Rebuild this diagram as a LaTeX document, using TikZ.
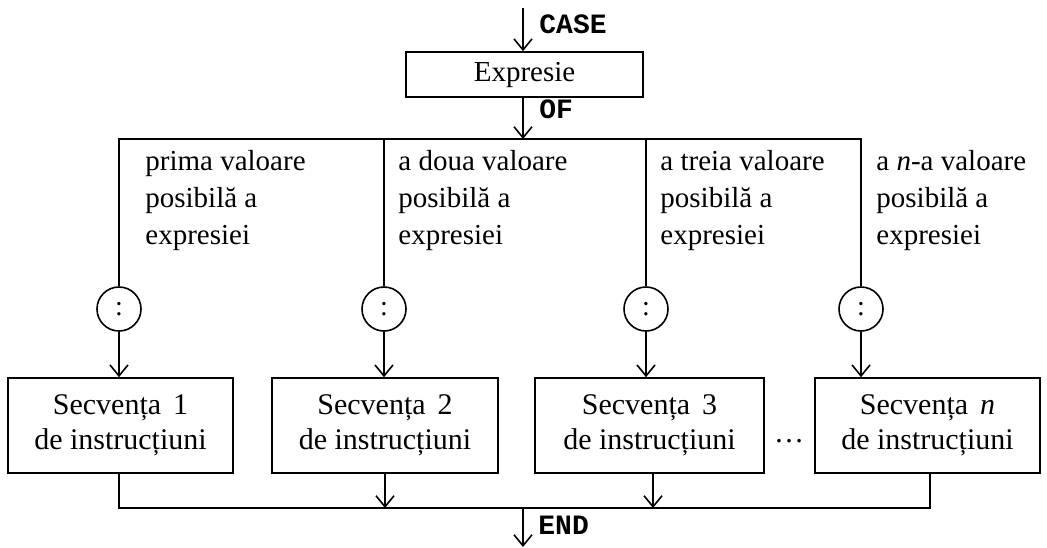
\documentclass[tikz,border=0pt]{standalone}
\usepackage{fontspec}
\setmainfont{Liberation Serif}
\newfontfamily\kwfont{Liberation Mono}
\usetikzlibrary{arrows.meta}
\begin{document}
\begin{tikzpicture}[x=0.5pt,y=-0.5pt,
  every node/.style={inner sep=0pt},
  flow/.style={line width=0.8pt},
  arr/.style={flow,-{Straight Barb[length=5.5pt,width=9pt,line width=0.8pt]}},
  block/.style={draw,line width=0.8pt,minimum height=47.5pt,align=center,
    font=\fontsize{15}{17.5}\selectfont},
  cond/.style={draw,circle,line width=0.8pt,minimum size=22pt,
    font=\fontsize{14}{18}\selectfont},
  value/.style={anchor=north west,align=left,font=\fontsize{14.5}{18.5}\selectfont},
  kw/.style={anchor=base west,font=\kwfont\bfseries\fontsize{14}{16}\selectfont}]
\useasboundingbox (0,0) rectangle (1047,547);

% entry and the expression box
\coordinate (in) at (523,8);
\node[draw,line width=0.8pt,minimum width=118.5pt,minimum height=22.5pt,
  font=\fontsize{14.5}{17}\selectfont] (expr) at (524.5,74.5) {Expresie};
\node[kw] (case) at (539,33) {CASE};
\node[kw] (of) at (539,118) {OF};

% the selector bus
\coordinate (bus) at (523,139);
\coordinate (busL) at (119,139);
\coordinate (busR) at (861,139);

% the value tests
\node[cond] (c1) at (119,309) {:};
\node[cond] (c2) at (384,309) {:};
\node[cond] (c3) at (646,309) {:};
\node[cond] (c4) at (861,309) {:};

% the value labels
\node[value] (v1) at (145,144) {\strut prima valoare\\\strut posibilă a\\\strut expresiei};
\node[value] (v2) at (398,144) {\strut a doua valoare\\\strut posibilă a\\\strut expresiei};
\node[value] (v3) at (660,144) {\strut a treia valoare\\\strut posibilă a\\\strut expresiei};
\node[value] (v4) at (876,144) {\strut a \textit{n}-a valoare\\\strut posibilă a\\\strut expresiei};

% the statement sequences
\node[block,minimum width=112.5pt] (s1) at (120.5,425.5) {Secvența\hspace{.4em}1\\de instrucțiuni};
\node[block,minimum width=113pt] (s2) at (385,425.5) {Secvența\hspace{.4em}2\\de instrucțiuni};
\node[block,minimum width=114.5pt] (s3) at (649.5,425.5) {Secvența\hspace{.4em}3\\de instrucțiuni};
\node[block,minimum width=112.5pt] (s4) at (927.5,425.5) {Secvența\hspace{.4em}\textit{n}\\de instrucțiuni};
\node[font=\fontsize{15}{18}\selectfont] (dots) at (789,441) {\dots};

% the joining bus and the exit
\coordinate (join) at (523,508);
\coordinate (out) at (523,547);
\node[kw] (end) at (538,534) {END};

% connectors
\draw[arr] (in) -- (in |- expr.north);
\draw[arr] (expr.south -| bus) -- (bus);
\draw[flow] (c1.north) |- (busL) -- (busR) -- (c4.north);
\draw[flow] (c2.north) -- (c2.north |- bus);
\draw[flow] (c3.north) -- (c3.north |- bus);
\foreach \i in {1,2,3,4} {
  \draw[arr] (c\i.south) -- (c\i.south |- s\i.north);
}
\draw[flow] (s1.south -| c1) |- (930,508) coordinate (joinR) -- (joinR |- s4.south);
\draw[arr] (385,0 |- s2.south) -- (385,508);
\draw[arr] (653,0 |- s3.south) -- (653,508);
\draw[arr] (join) -- (out);
\end{tikzpicture}
\end{document}
